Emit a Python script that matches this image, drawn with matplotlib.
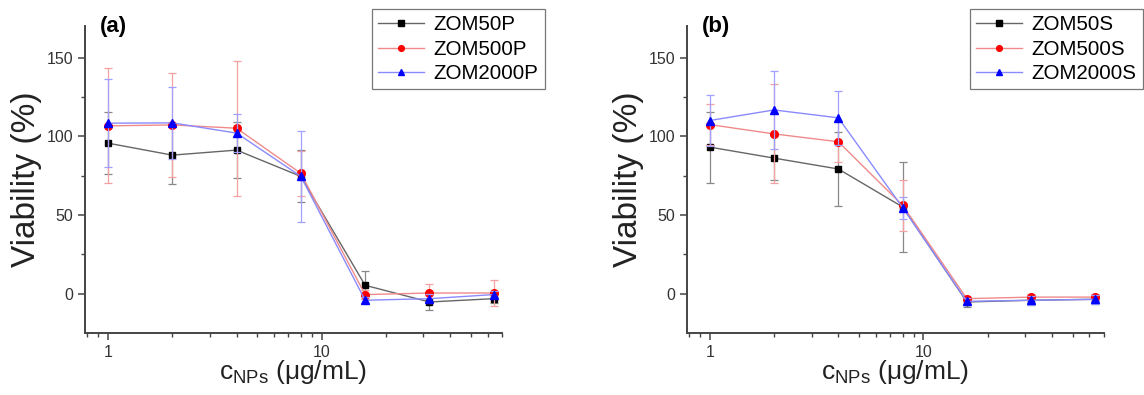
import matplotlib
matplotlib.use("Agg")
import matplotlib.pyplot as plt
from matplotlib.ticker import LogLocator, FixedLocator, NullFormatter
import numpy as np

plt.rcParams['font.family'] = ['Liberation Sans', 'DejaVu Sans']
plt.rcParams['mathtext.fontset'] = 'custom'
plt.rcParams['mathtext.rm'] = 'Liberation Sans'
plt.rcParams['mathtext.it'] = 'Liberation Sans:italic'

# concentrations (ug/mL)
conc = [1, 2, 4, 8, 16, 32, 64]

# panel (a)
zom50p = [95.6, 88.0, 91.2, 74.5, 5.3, -5.3, -3.2]
zom50p_err = [19.5, 18.6, 18.0, 16.5, 9.0, 5.0, 3.0]
zom500p = [106.6, 107.2, 105.1, 76.4, -0.6, 0.4, 0.4]
zom500p_err = [36.5, 33.0, 43.0, 14.5, 3.0, 6.0, 8.0]
zom2000p = [108.3, 108.5, 102.0, 74.5, -4.2, -3.2, -0.6]
zom2000p_err = [28.0, 23.0, 12.0, 29.0, 2.0, 3.0, 2.0]

# panel (b)
zom50s = [93.1, 86.1, 79.2, 55.1, -5.3, -4.2, -3.6]
zom50s_err = [22.5, 14.0, 23.5, 28.5, 3.0, 3.0, 3.0]
zom500s = [107.4, 101.5, 96.5, 56.1, -3.2, -2.2, -2.2]
zom500s_err = [13.0, 31.5, 13.0, 16.0, 2.0, 2.0, 2.0]
zom2000s = [110.0, 116.7, 111.7, 54.7, -4.9, -4.2, -3.6]
zom2000s_err = [16.5, 25.0, 17.0, 7.0, 2.0, 3.0, 3.0]

styles = [
    dict(marker='s', ms=5.0, mfc='black', mec='black', color='#666666', ecolor='#888888'),
    dict(marker='o', ms=5.5, mfc='red', mec='red', color='#f08a8a', ecolor='#f4a0a0'),
    dict(marker='^', ms=6.0, mfc='blue', mec='blue', color='#8a8aff', ecolor='#a0a0ff'),
]

fig = plt.figure(figsize=(11.44, 3.95), dpi=100)
ax_a = fig.add_axes([0.0743, 0.157, 0.3645, 0.777])
ax_b = fig.add_axes([0.6003, 0.157, 0.3645, 0.777])

panels = [
    (ax_a, '(a)', [('ZOM50P', zom50p, zom50p_err), ('ZOM500P', zom500p, zom500p_err),
                   ('ZOM2000P', zom2000p, zom2000p_err)], 0.688),
    (ax_b, '(b)', [('ZOM50S', zom50s, zom50s_err), ('ZOM500S', zom500s, zom500s_err),
                   ('ZOM2000S', zom2000s, zom2000s_err)], 0.679),
]

for ax, tag, series, leg_x in panels:
    for (name, vals, errs), st in zip(series, styles):
        # error bars first, then line + markers on top
        ax.errorbar(conc, vals, yerr=errs, fmt='none', ecolor=st['ecolor'],
                    elinewidth=0.9, capsize=3, capthick=0.9)
        ax.plot(conc, vals, marker=st['marker'], markersize=st['ms'],
                mfc=st['mfc'], mec=st['mec'], color=st['color'], lw=1.0, label=name)
    ax.set_xscale('log')
    ax.set_xlim(0.78, 70)
    ax.set_ylim(-25, 170)
    ax.xaxis.set_major_locator(FixedLocator([1, 10]))
    ax.xaxis.set_minor_locator(LogLocator(base=10, subs=np.arange(2, 10)))
    ax.xaxis.set_minor_formatter(NullFormatter())
    ax.set_xticklabels(['1', '10'])
    ax.yaxis.set_major_locator(FixedLocator([0, 50, 100, 150]))
    ax.yaxis.set_minor_locator(FixedLocator([25, 75, 125]))
    for s in ['top', 'right']:
        ax.spines[s].set_visible(False)
    for s in ['left', 'bottom']:
        ax.spines[s].set_color('#444444')
        ax.spines[s].set_linewidth(1.4)
    ax.tick_params(which='major', direction='out', length=5, width=1.1,
                   colors='#444444', labelsize=11.5, labelcolor='#333333')
    ax.tick_params(which='minor', direction='out', length=3, width=1.0, colors='#444444')
    ax.set_ylabel('Viability (%)', fontsize=24, color='#222222', labelpad=3)
    ax.set_xlabel(r'c$_{\mathrm{NPs}}$ ($\mathrm{\mu}$g/mL)', fontsize=19,
                  color='#222222', labelpad=-1)
    ax.text(0.036, 1.0, tag, transform=ax.transAxes, fontsize=16,
            fontweight='bold', va='center', ha='left')
    leg = ax.legend(loc='upper left', bbox_to_anchor=(leg_x, 1.055), fontsize=14.8,
                    frameon=True, fancybox=False, handlelength=2.25, markerscale=0.75,
                    borderpad=0.3, labelspacing=0.26, handletextpad=0.45,
                    borderaxespad=0)
    leg.get_frame().set_edgecolor('#555555')
    leg.get_frame().set_linewidth(0.9)

fig.savefig('out.png', dpi=100)
